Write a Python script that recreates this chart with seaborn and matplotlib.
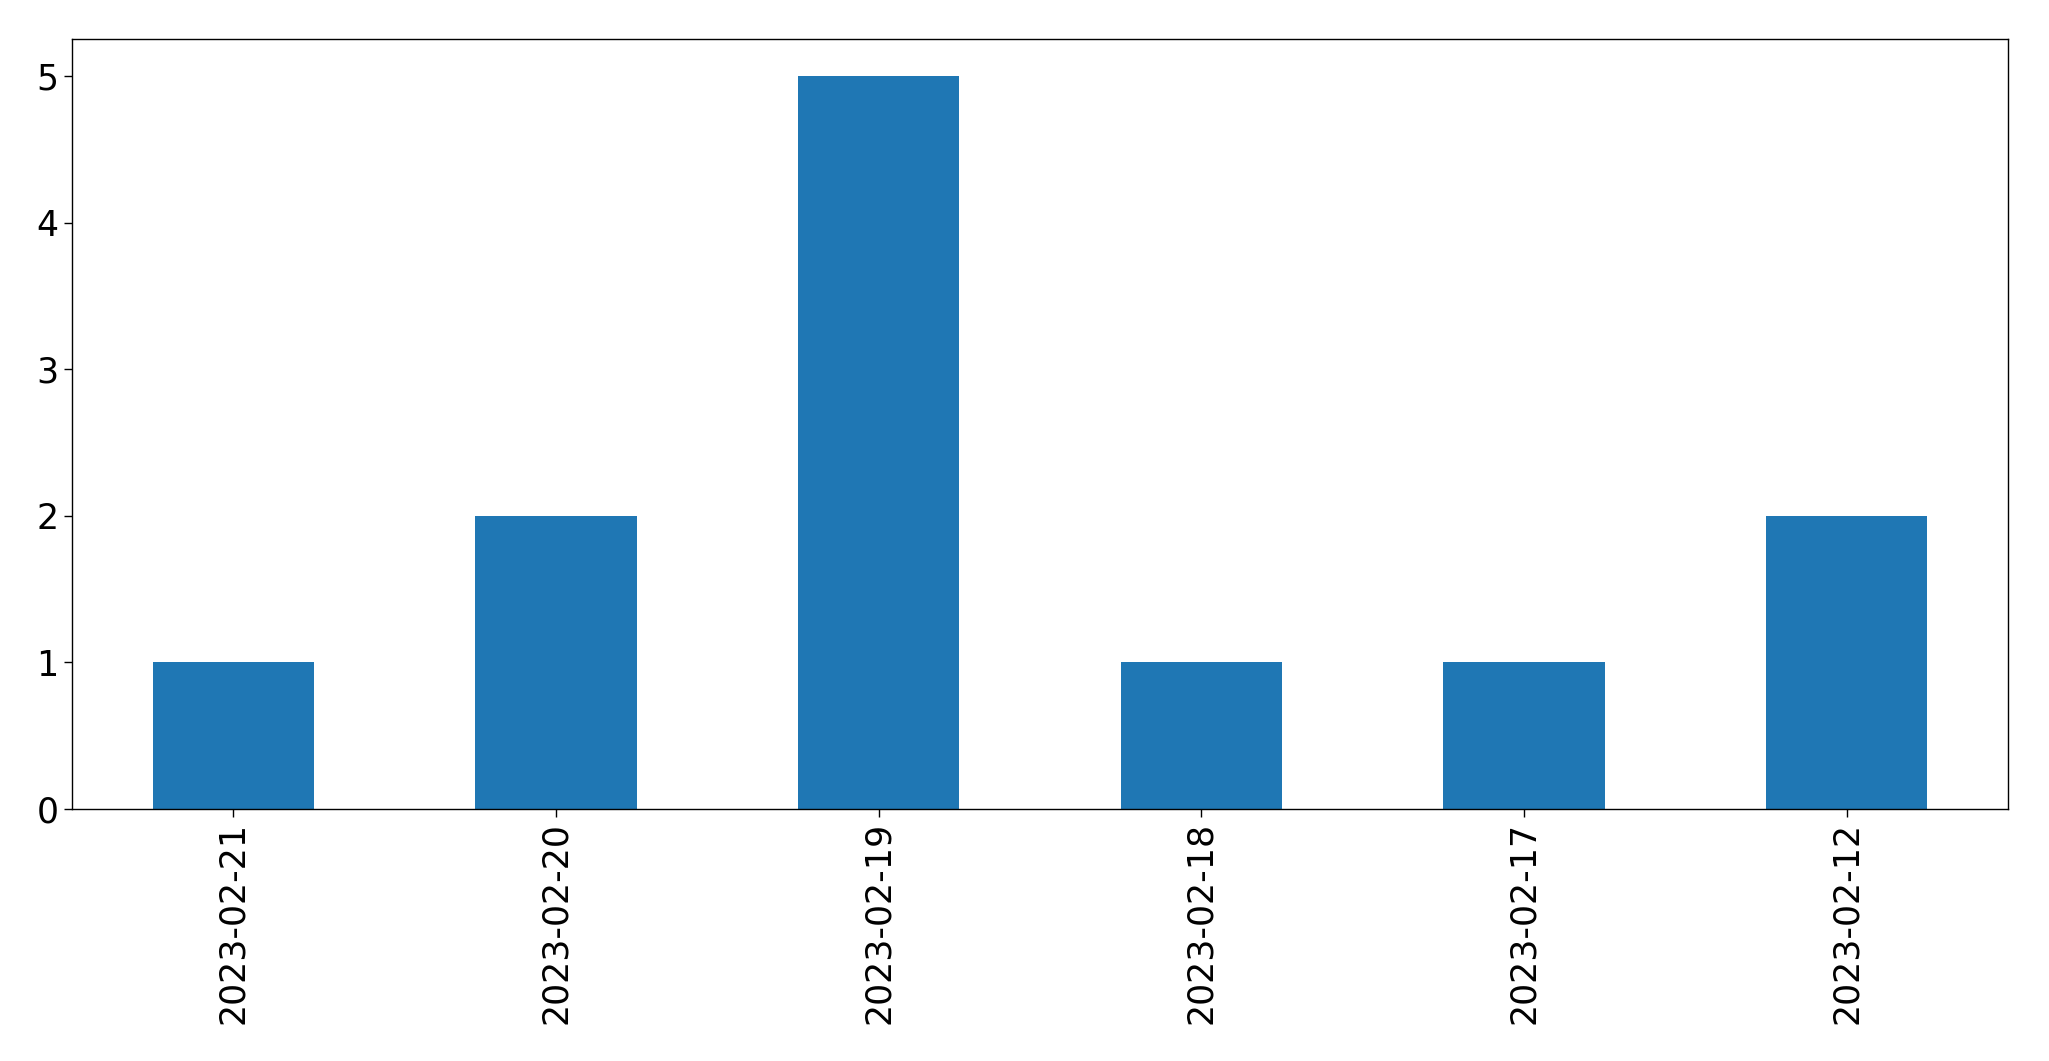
import matplotlib
matplotlib.use("Agg")
import matplotlib.pyplot as plt
import seaborn as sns
import pandas as pd

# --------------------------------------
# DATA
# --------------------------------------

dates = ["2023-02-21", "2023-02-20", "2023-02-19", "2023-02-18", "2023-02-17", "2023-02-12"]
counts = [1, 2, 5, 1, 1, 2]

df = pd.DataFrame({"date": dates, "count": counts})

# --------------------------------------
# PLOT
# --------------------------------------

sns.set_style("white")
plt.rcParams["font.family"] = ["DejaVu Sans"]

fig, ax = plt.subplots(figsize=(20.49, 10.61), dpi=100)

sns.barplot(
    data=df,
    x="date",
    y="count",
    order=dates,
    color="#1f77b4",
    saturation=1,
    width=0.5,
    linewidth=0,
    ax=ax
)

ax.set_xlim(-0.5, 5.5)
ax.set_ylim(0, 5.25)
ax.set_xlabel("")
ax.set_ylabel("")
ax.tick_params(axis="both", labelsize=25, length=6, width=1, direction="out",
               bottom=True, left=True, colors="black")
plt.xticks(rotation=90)

for spine in ax.spines.values():
    spine.set_visible(True)
    spine.set_color("black")
    spine.set_linewidth(1)

plt.subplots_adjust(left=0.0351, right=0.980, top=0.963, bottom=0.2375)

plt.savefig("out.png", dpi=100)
